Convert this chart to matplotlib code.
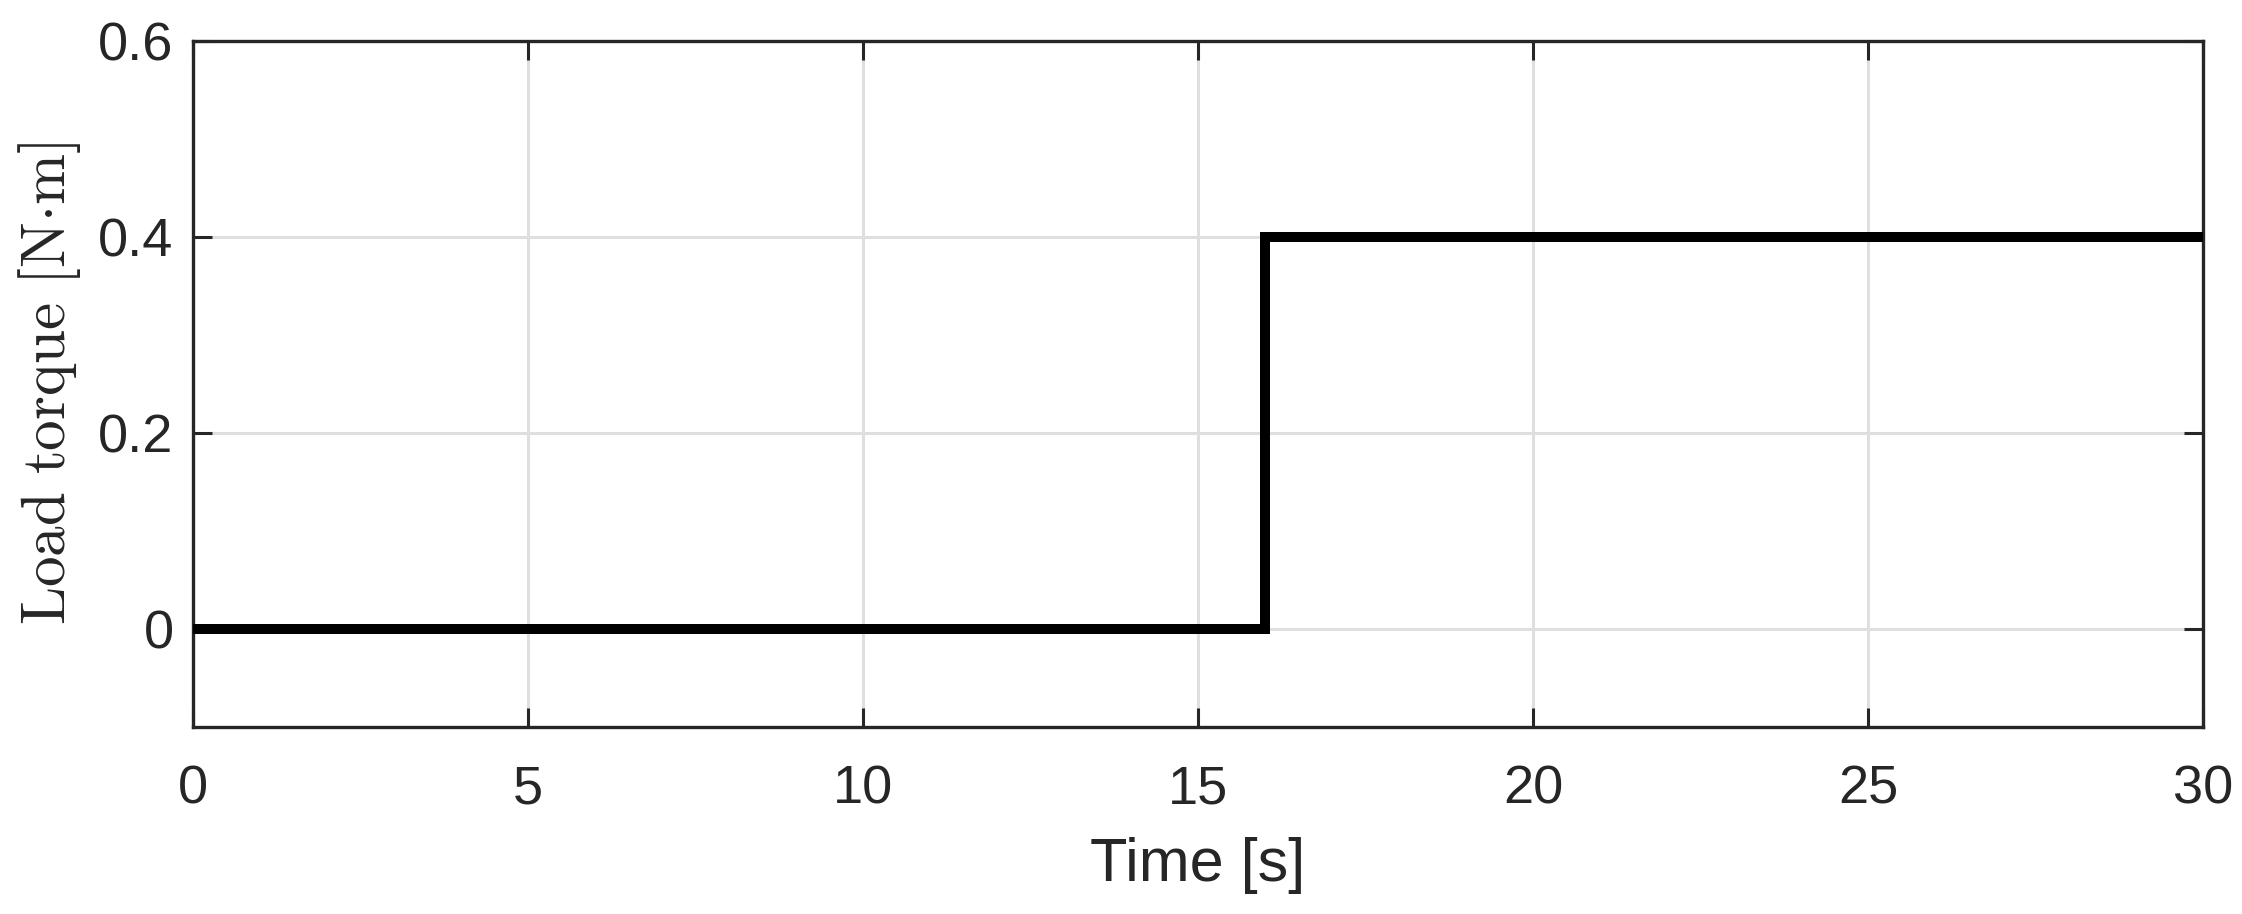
import matplotlib
matplotlib.use("Agg")
import matplotlib.pyplot as plt

# Data
time_s = [0, 16, 16, 30]
load_torque = [0.0, 0.0, 0.4, 0.4]
xticks = [0, 5, 10, 15, 20, 25, 30]
yticks = [0, 0.2, 0.4, 0.6]
ytick_labels = ["0", "0.2", "0.4", "0.6"]

plt.rcParams['font.family'] = ['Liberation Sans', 'DejaVu Sans']
plt.rcParams['mathtext.fontset'] = 'cm'

fig = plt.figure(figsize=(22.42, 9.14), dpi=100)
ax = fig.add_axes([193/2242, 1-727/914, (2203-193)/2242, (727-41)/914])

ax.plot(time_s, load_torque, color='black', lw=7.2, solid_joinstyle='miter', zorder=3)

ax.set_xlim(0, 30)
ax.set_ylim(-0.1, 0.6)
ax.set_xticks(xticks)
ax.set_yticks(yticks)
ax.set_yticklabels(ytick_labels)

ax.grid(True, color='#dfdfdf', lw=2.2)
ax.set_axisbelow(True)
for s in ax.spines.values():
    s.set_color('#262626')
    s.set_linewidth(2.4)

ax.tick_params(axis='both', direction='in', length=14, width=2.2, color='#262626',
               labelsize=39, labelcolor='#262626', top=True, right=True)
ax.tick_params(axis='x', pad=27)
ax.tick_params(axis='y', pad=14)

ax.set_xlabel('Time [s]', fontsize=44, color='#262626', labelpad=16)
ax.set_ylabel(r'$\mathrm{Load\ torque\ [N{\cdot}m]}$', fontsize=44, color='#262626', labelpad=11)

fig.savefig('out.png', dpi=100)
